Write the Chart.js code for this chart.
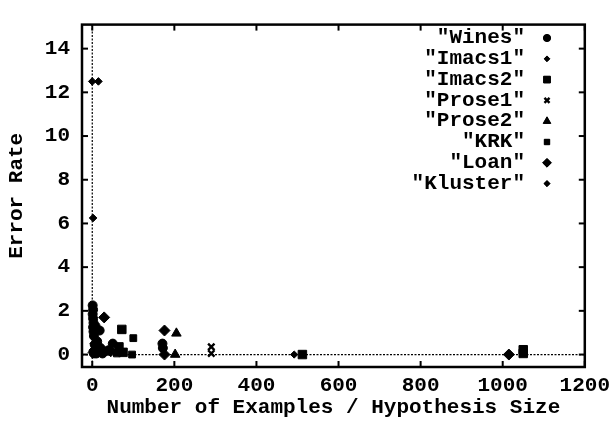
<!DOCTYPE html>
<html>
<head>
<meta charset="utf-8">
<script src="https://cdn.jsdelivr.net/npm/chart.js@4/dist/chart.umd.min.js"></script>
<style>
html,body{margin:0;padding:0;background:#fff;}
#wrap{width:616px;height:422px;}
</style>
</head>
<body>
<div id="wrap"><canvas id="c" width="616" height="422"></canvas></div>
<script>
// ---- data ----
const seriesNames = ['"Wines"', '"Imacs1"', '"Imacs2"', '"Prose1"', '"Prose2"', '"KRK"', '"Loan"', '"Kluster"'];
const wines  = [[1,2.25],[2,2.05],[1,1.85],[2,1.65],[3,1.45],[2,1.25],[3,1.05],[18,1.1],[4,0.85],[12,0.6],[6,0.45],[20,0.3],[30,0.15],[10,0.05],[40,0.2],[50,0.5],[171,0.5],[172,0.3],[4,0.05],[8,1.3],[14,0.35],[25,0.05]];
const imacs1 = [[3,0.5],[8,0.1],[25,0.05],[492,0]];
const imacs2 = [[72,1.15],[65,0.35],[75,0.1],[512,0],[1050,0.05],[1050,0.22]];
const prose1 = [[290,0.35],[290,0.05],[5,0.3],[15,0.1]];
const prose2 = [[205,0.97],[202,0],[35,0.1]];
const krk    = [[100,0.75],[97,0],[60,0.05],[20,0.2]];
const loan   = [[29,1.7],[176,1.1],[176,0],[1015,0],[45,0.15],[3,0.1]];
const kluster= [[0,12.5],[15,12.5],[2,6.25],[1,0.2]];
const xTicks = [0,200,400,600,800,1000,1200];
const yTicks = [0,2,4,6,8,10,12,14];
const xTitle = 'Number of Examples / Hypothesis Size';
const yTitle = 'Error Rate';

const FONT = {family:'"Liberation Mono", "Courier New", monospace', size:21, weight:'bold'};
const styles = [
  {pointStyle:'circle',  radius:4.5},
  {pointStyle:'rectRot', radius:3.6},
  {pointStyle:'rect',    radius:6},
  {pointStyle:'crossRot',radius:4.5, borderWidth:2.4},
  {pointStyle:'triangle',radius:5.5},
  {pointStyle:'rect',    radius:4.8},
  {pointStyle:'rectRot', radius:5.5},
  {pointStyle:'rectRot', radius:3.8}
];
const allSeries = [wines, imacs1, imacs2, prose1, prose2, krk, loan, kluster];
const datasets = allSeries.map((s,i)=>({
  label: seriesNames[i],
  data: s.map(p=>({x:p[0], y:p[1]})),
  pointStyle: styles[i].pointStyle,
  pointRadius: styles[i].radius,
  pointHoverRadius: styles[i].radius,
  pointBorderWidth: styles[i].borderWidth || 1,
  backgroundColor:'#000',
  borderColor:'#000',
  showLine:false
}));

const framePlugin = {
  id:'frame',
  afterDatasetsDraw(chart){
    const ctx = chart.ctx, a = chart.chartArea;
    const xs = chart.scales.x, ys = chart.scales.y;
    ctx.save();
    // zero axes (dotted)
    ctx.strokeStyle = '#000'; ctx.lineWidth = 1.2; ctx.setLineDash([2,1.5]);
    const x0 = xs.getPixelForValue(0), y0 = ys.getPixelForValue(0);
    ctx.beginPath(); ctx.moveTo(a.left, y0); ctx.lineTo(a.right, y0); ctx.stroke();
    ctx.beginPath(); ctx.moveTo(x0, a.top); ctx.lineTo(x0, a.bottom); ctx.stroke();
    ctx.setLineDash([]);
    // frame
    ctx.lineWidth = 2.5;
    ctx.strokeRect(a.left, a.top, a.right-a.left, a.bottom-a.top);
    // inward ticks on all sides
    ctx.lineWidth = 2;
    const tl = 6;
    xs.ticks.forEach(t=>{
      const px = xs.getPixelForValue(t.value);
      ctx.beginPath(); ctx.moveTo(px, a.bottom); ctx.lineTo(px, a.bottom-tl); ctx.stroke();
      ctx.beginPath(); ctx.moveTo(px, a.top); ctx.lineTo(px, a.top+tl); ctx.stroke();
    });
    ys.ticks.forEach(t=>{
      const py = ys.getPixelForValue(t.value);
      ctx.beginPath(); ctx.moveTo(a.left, py); ctx.lineTo(a.left+tl, py); ctx.stroke();
      ctx.beginPath(); ctx.moveTo(a.right, py); ctx.lineTo(a.right-tl, py); ctx.stroke();
    });
    // legend (text right-aligned, marker on the right)
    ctx.font = 'bold 21px "Liberation Mono", "Courier New", monospace';
    ctx.fillStyle = '#000';
    ctx.textAlign = 'right'; ctx.textBaseline = 'middle';
    const textRight = 525, markX = 547, rowY0 = 38, rowH = 20.8;
    chart.data.datasets.forEach((ds,i)=>{
      const y = rowY0 + i*rowH;
      ctx.fillText(ds.label, textRight, y);
      const st = styles[i];
      const r = st.radius*0.8;
      ctx.lineWidth = st.borderWidth || 1;
      if (Chart.helpers && Chart.helpers.drawPoint) {
        Chart.helpers.drawPoint(ctx, {pointStyle: st.pointStyle, radius: r, borderWidth: ctx.lineWidth, rotation:0}, markX, y);
        ctx.fill();
      } else {
        ctx.beginPath(); ctx.arc(markX, y, r, 0, Math.PI*2); ctx.fill();
      }
    });
    ctx.restore();
  }
};

new Chart(document.getElementById('c'), {
  type:'scatter',
  data:{datasets},
  options:{
    responsive:false,
    animation:false,
    events:[],
    layout:{padding:{top:10, right:26, left:0, bottom:0}},
    plugins:{legend:{display:false}, tooltip:{enabled:false}},
    scales:{
      x:{
        type:'linear', min:-25, max:1200,
        afterBuildTicks(s){ s.ticks = xTicks.map(v=>({value:v})); },
        afterFit(s){ s.height = 55; },
        grid:{display:false, drawTicks:false},
        border:{display:false},
        ticks:{color:'#000', font:FONT, padding:6, maxRotation:0, autoSkip:false, callback:v=>String(v)},
        title:{display:true, text:xTitle, color:'#000', font:FONT, padding:{top:0,bottom:2}}
      },
      y:{
        type:'linear', min:-0.57, max:15.1,
        afterBuildTicks(s){ s.ticks = yTicks.map(v=>({value:v})); },
        afterFit(s){ s.width = 82; },
        grid:{display:false, drawTicks:false},
        border:{display:false},
        ticks:{color:'#000', font:FONT, padding:12, autoSkip:false, callback:v=>String(v)},
        title:{display:true, text:yTitle, color:'#000', font:FONT, padding:{top:4,bottom:0}}
      }
    }
  },
  plugins:[framePlugin]
});
</script>
</body>
</html>
